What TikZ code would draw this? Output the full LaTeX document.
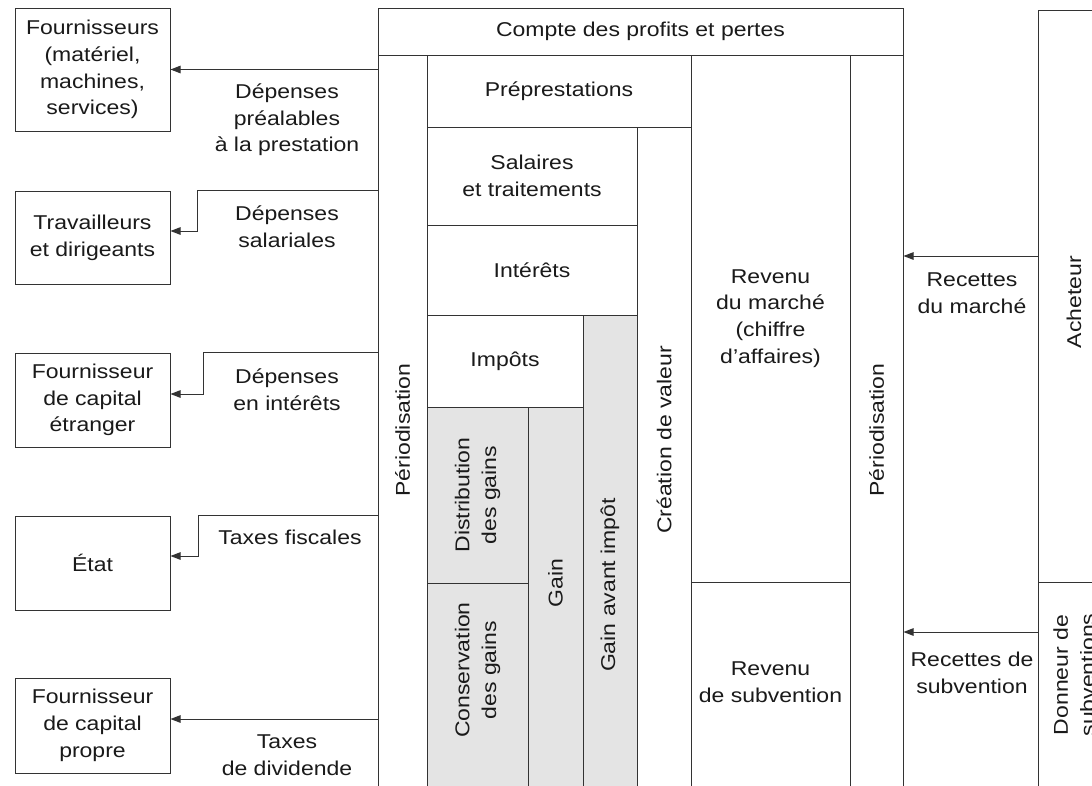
\documentclass[tikz,border=0pt]{standalone}
\usepackage{fontspec}
\setmainfont{Liberation Sans}[FakeStretch=1.15]
\usetikzlibrary{arrows.meta}
\definecolor{lc}{HTML}{333333}
\definecolor{tc}{HTML}{1A1A1A}
\definecolor{gfill}{HTML}{E4E4E4}
\tikzset{
  sz/.style 2 args={minimum width=#1pt, minimum height=#2pt},
  cell/.style={draw=lc, line width=1pt, inner sep=0pt, align=center, rectangle},
  shaded/.style={cell, fill=gfill},
  lbl/.style={align=center, inner sep=0pt},
  vlbl/.style={align=center, inner sep=0pt, rotate=90},
  arr/.style={draw=lc, line width=1pt, -{Triangle[length=10pt,width=7.5pt]}},
}
\begin{document}
\begin{tikzpicture}[x=1pt,y=-1pt,
  every node/.append style={font=\fontsize{20}{26.7}\selectfont, text=tc}]
\useasboundingbox (0,0) rectangle (1092,785);
\clip (0,0) rectangle (1092,785);
\fill[white] (0,0) rectangle (1092,785);

% shaded cells
\node[shaded, sz={54}{480}] (gai) at (610,555) {};
\node[shaded, sz={101}{176}] (dist) at (477.5,495) {};
\node[shaded, sz={101}{212}] (cons) at (477.5,689) {};
\node[shaded, sz={55}{388}] (gain) at (555.5,601) {};

% white cells
\node[cell, sz={525}{47}] (title) at (640.5,31.5) {Compte des profits et pertes};
\node[cell, sz={49}{740}] (perL) at (402.5,425) {};
\node[cell, sz={264}{72}] (prep) at (559,91) {Préprestations};
\node[cell, sz={210}{98}] (sal) at (532,176) {Salaires\\et traitements};
\node[cell, sz={210}{90}] (int) at (532,270) {Intérêts};
\node[cell, sz={156}{92}] (imp) at (505,361) {Impôts};
\node[cell, sz={54}{668}] (crea) at (664,461) {};
\node[cell, sz={159}{527}] (revm) at (770.5,318.5) {Revenu\\du marché\\(chiffre\\d’affaires)};
\node[cell, sz={159}{213}] (revs) at (770.5,688.5) {};
\node[cell, sz={53}{740}] (perR) at (876.5,425) {};
\node[cell, sz={72}{572}] (ach) at (1074,296) {};
\node[cell, sz={72}{213}] (don) at (1074,688.5) {};

% rotated and offset texts
\node[vlbl] (perLT) at (402.5,430) {Périodisation};
\node[vlbl] (perRT) at (876.5,430) {Périodisation};
\node[vlbl] (creaT) at (664,440) {Création de valeur};
\node[vlbl] (gaiT) at (610,585) {Gain avant impôt};
\node[vlbl] (gainT) at (555.5,583) {Gain};
\node[vlbl] (distT) at (477.5,495) {Distribution\\des gains};
\node[vlbl] (consT) at (477.5,670) {Conservation\\des gains};
\node[lbl] (revsT) at (770.5,682) {Revenu\\de subvention};
\node[vlbl] (achT) at (1074,302) {Acheteur};
\node[vlbl] (donT) at (1074,675) {Donneur de\\subventions};

% left boxes
\node[cell, sz={155}{123}] (f1) at (92.5,69.5) {Fournisseurs\\(matériel,\\machines,\\services)};
\node[cell, sz={155}{93}] (f2) at (92.5,237.5) {Travailleurs\\et dirigeants};
\node[cell, sz={155}{94}] (f3) at (92.5,400) {Fournisseur\\de capital\\étranger};
\node[cell, sz={155}{94}] (f4) at (92.5,563) {État};
\node[cell, sz={155}{95}] (f5) at (92.5,725.5) {Fournisseur\\de capital\\propre};

% arrow labels
\node[lbl] (l1) at (287,120) {Dépenses\\préalables\\à la prestation};
\node[lbl] (l2) at (287,227) {Dépenses\\salariales};
\node[lbl] (l3) at (287,390) {Dépenses\\en intérêts};
\node[lbl] (l4) at (290,537) {Taxes fiscales};
\node[lbl] (l5) at (287,755) {Taxes\\de dividende};
\node[lbl] (l6) at (972,293) {Recettes\\du marché};
\node[lbl] (l7) at (972,673) {Recettes de\\subvention};

% connectors
\draw[arr] (perL.west |- f1.east) -- (f1.east);
\draw[arr] (perL.west |- f2.north) -- ++(-180,0) |- ([yshift=6.5pt]f2.east);
\draw[arr] (perL.west |- f3.north) -- ++(-174,0) |- ([yshift=6pt]f3.east);
\draw[arr] (perL.west |- f4.north) -- ++(-179,0) |- ([yshift=7pt]f4.east);
\coordinate (c5) at ([yshift=6.5pt]f5.east);
\draw[arr] (perL.west |- c5) -- (c5);
\coordinate (c6) at ([yshift=40pt]ach.west);
\draw[arr] (c6) -- (perR.east |- c6);
\coordinate (c7) at ([yshift=56.5pt]don.west);
\draw[arr] (c7) -- (perR.east |- c7);
\end{tikzpicture}
\end{document}
